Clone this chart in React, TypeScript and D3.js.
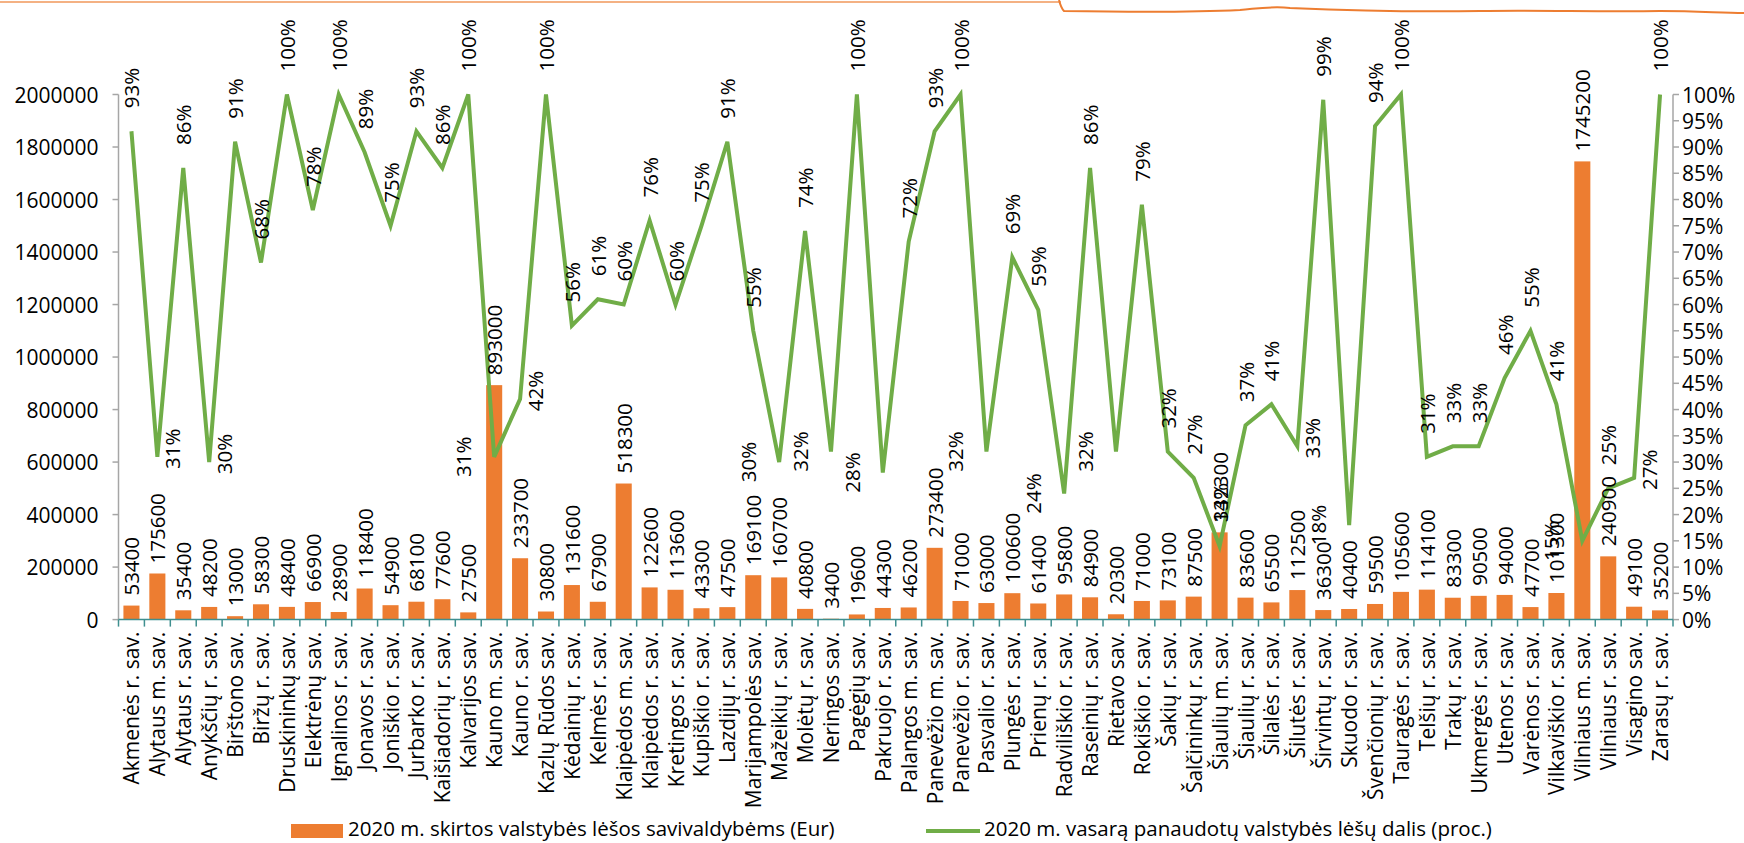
import React from "react";
import * as d3 from "d3";

const municipalities = [
  "Akmenės r. sav.", "Alytaus m. sav.", "Alytaus r. sav.", "Anykščių r. sav.", "Birštono sav.",
  "Biržų r. sav.", "Druskininkų sav.", "Elektrėnų sav.", "Ignalinos r. sav.", "Jonavos r. sav.",
  "Joniškio r. sav.", "Jurbarko r. sav.", "Kaišiadorių r. sav.", "Kalvarijos sav.", "Kauno m. sav.",
  "Kauno r. sav.", "Kazlų Rūdos sav.", "Kėdainių r. sav.", "Kelmės r. sav.", "Klaipėdos m. sav.",
  "Klaipėdos r. sav.", "Kretingos r. sav.", "Kupiškio r. sav.", "Lazdijų r. sav.", "Marijampolės sav.",
  "Mažeikių r. sav.", "Molėtų r. sav.", "Neringos sav.", "Pagėgių sav.", "Pakruojo r. sav.",
  "Palangos m. sav.", "Panevėžio m. sav.", "Panevėžio r. sav.", "Pasvalio r. sav.", "Plungės r. sav.",
  "Prienų r. sav.", "Radviliškio r. sav.", "Raseinių r. sav.", "Rietavo sav.", "Rokiškio r. sav.",
  "Šakių r. sav.", "Šalčininkų r. sav.", "Šiaulių m. sav.", "Šiaulių r. sav.", "Šilalės r. sav.",
  "Šilutės r. sav.", "Širvintų r. sav.", "Skuodo r. sav.", "Švenčionių r. sav.", "Tauragės r. sav.",
  "Telšių r. sav.", "Trakų r. sav.", "Ukmergės r. sav.", "Utenos r. sav.", "Varėnos r. sav.",
  "Vilkaviškio r. sav.", "Vilniaus m. sav.", "Vilniaus r. sav.", "Visagino sav.", "Zarasų r. sav.",
];

const fundsEur = [
  53400, 175600, 35400, 48200, 13000, 58300, 48400, 66900, 28900, 118400,
  54900, 68100, 77600, 27500, 893000, 233700, 30800, 131600, 67900, 518300,
  122600, 113600, 43300, 47500, 169100, 160700, 40800, 3400, 19600, 44300,
  46200, 273400, 71000, 63000, 100600, 61400, 95800, 84900, 20300, 71000,
  73100, 87500, 332300, 83600, 65500, 112500, 36300, 40400, 59500, 105600,
  114100, 83300, 90500, 94000, 47700, 101300, 1745200, 240900, 49100, 35200,
];

const usedShare = [
  93, 31, 86, 30, 91, 68, 100, 78, 100, 89,
  75, 93, 86, 100, 31, 42, 100, 56, 61, 60,
  76, 60, 75, 91, 55, 30, 74, 32, 100, 28,
  72, 93, 100, 32, 69, 59, 24, 86, 32, 79,
  32, 27, 14, 37, 41, 33, 99, 18, 94, 100,
  31, 33, 33, 46, 55, 41, 15, 25, 27, 100,
];

// label placement of the percentage labels: a = above, l = left, r = right
const shareLabelSide = [
  "a", "r", "a", "r", "a", "a", "a", "a", "a", "a",
  "a", "a", "a", "a", "l", "r", "a", "a", "a", "a",
  "a", "a", "a", "a", "a", "l", "a", "l", "a", "l",
  "a", "a", "a", "l", "a", "a", "l", "a", "l", "a",
  "a", "a", "a", "a", "a", "r", "a", "l", "a", "a",
  "a", "a", "a", "a", "a", "a", "l", "a", "r", "a",
];

const leftTicks = [0, 200000, 400000, 600000, 800000, 1000000, 1200000, 1400000, 1600000, 1800000, 2000000];
const rightTicks = [0, 5, 10, 15, 20, 25, 30, 35, 40, 45, 50, 55, 60, 65, 70, 75, 80, 85, 90, 95, 100];

const seriesBarName = "2020 m. skirtos valstybės lėšos savivaldybėms (Eur)";
const seriesLineName = "2020 m. vasarą panaudotų valstybės lėšų dalis (proc.)";

const W = 1744;
const H = 843;
const FONT = "'Open Sans', 'Noto Sans', sans-serif";
const ORANGE = "#ED7D31";
const GREEN = "#70AD47";
const AXIS = "#A6A6A6";
const XAXIS = "#3F8F8F";

export default function App() {
  const left = 118.5;
  const right = 1673;
  const top = 94.5;
  const bottom = 619.6;

  const x = d3.scaleBand<string>().domain(municipalities).range([left, right]).paddingInner(0.38).paddingOuter(0.19);
  const yL = d3.scaleLinear().domain([0, 2000000]).range([bottom, top]);
  const yR = d3.scaleLinear().domain([0, 100]).range([bottom, top]);
  const cx = (i: number) => (x(municipalities[i]) as number) + x.bandwidth() / 2;

  const line = d3
    .line<number>()
    .x((_, i) => cx(i))
    .y((d) => yR(d));

  const step = x.step();
  const boundaries = d3.range(municipalities.length + 1).map((i) => left + i * step);

  const fs = 20.5;
  const fsX = 21;

  return (
    <svg width={W} height={H} style={{ position: "absolute", left: 0, top: 0, background: "#fff" }} fontFamily={FONT}>
      <rect x={0} y={0} width={W} height={H} fill="#fff" />
      {/* cropped callout shape at the top */}
      <line x1={0} y1={2} x2={1061} y2={2} stroke="#F4B183" strokeWidth={2} />
      <path
        d="M1059,0 C1060,4 1061,8 1064,11 C1120,12 1180,13 1240,10 C1262,8 1272,6 1290,8 C1360,11 1420,12 1480,11 C1540,10 1600,12 1660,11 C1700,11 1720,13 1744,13"
        fill="none"
        stroke={ORANGE}
        strokeWidth={2}
      />

      {/* bars */}
      {fundsEur.map((v, i) => (
        <rect
          key={"b" + i}
          x={x(municipalities[i])}
          y={yL(v)}
          width={x.bandwidth()}
          height={bottom - yL(v)}
          fill={ORANGE}
        />
      ))}

      {/* left axis */}
      <line x1={left} y1={top} x2={left} y2={bottom} stroke={AXIS} strokeWidth={1.5} />
      {leftTicks.map((t) => (
        <g key={"lt" + t}>
          <line x1={left - 6} x2={left} y1={yL(t)} y2={yL(t)} stroke={AXIS} strokeWidth={1.5} />
          <text x={left - 20} y={yL(t)} textAnchor="end" dominantBaseline="central" fontSize={21} fill="#000">
            {t}
          </text>
        </g>
      ))}

      {/* right axis */}
      <line x1={right} y1={top} x2={right} y2={bottom} stroke={AXIS} strokeWidth={1.5} />
      {rightTicks.map((t) => (
        <g key={"rt" + t}>
          <line x1={right} x2={right + 6} y1={yR(t)} y2={yR(t)} stroke={AXIS} strokeWidth={1.5} />
          <text x={right + 9} y={yR(t)} textAnchor="start" dominantBaseline="central" fontSize={21} fill="#000">
            {t + "%"}
          </text>
        </g>
      ))}

      {/* x axis */}
      <line x1={left} y1={bottom} x2={right} y2={bottom} stroke={XAXIS} strokeWidth={1.5} />
      {boundaries.map((bx, i) => (
        <line key={"xt" + i} x1={bx} x2={bx} y1={bottom} y2={bottom + 7} stroke={XAXIS} strokeWidth={1.5} />
      ))}
      {municipalities.map((m, i) => (
        <text
          key={"xl" + i}
          transform={`translate(${cx(i)},${bottom + 12}) rotate(-90)`}
          textAnchor="end"
          dominantBaseline="central"
          fontSize={fsX}
          fill="#000"
        >
          {m}
        </text>
      ))}

      {/* line */}
      <path d={line(usedShare) || ""} fill="none" stroke={GREEN} strokeWidth={4} strokeLinejoin="miter" />

      {/* bar labels */}
      {fundsEur.map((v, i) => (
        <text
          key={"bl" + i}
          transform={`translate(${cx(i)},${yL(v) - 10}) rotate(-90)`}
          textAnchor="start"
          dominantBaseline="central"
          fontSize={fs}
          fill="#000"
        >
          {v}
        </text>
      ))}

      {/* percentage labels */}
      {usedShare.map((v, i) => {
        const side = shareLabelSide[i];
        const px = cx(i);
        const py = yR(v);
        let tx = px;
        let ty = py - 23;
        let anchor = "start";
        if (side === "l") {
          tx = px - 31;
          ty = py;
          anchor = "middle";
        } else if (side === "r") {
          tx = px + 15;
          ty = py - 8;
          anchor = "middle";
        }
        return (
          <text
            key={"pl" + i}
            transform={`translate(${tx},${ty}) rotate(-90)`}
            textAnchor={anchor}
            dominantBaseline="central"
            fontSize={fs}
            fill="#000"
          >
            {v + "%"}
          </text>
        );
      })}

      {/* legend */}
      <rect x={291} y={824} width={52} height={14} fill={ORANGE} />
      <text x={348} y={836} fontSize={20.5} fill="#000">
        {seriesBarName}
      </text>
      <line x1={926} x2={980} y1={831} y2={831} stroke={GREEN} strokeWidth={4} />
      <text x={984} y={836} fontSize={20.5} fill="#000">
        {seriesLineName}
      </text>
    </svg>
  );
}
